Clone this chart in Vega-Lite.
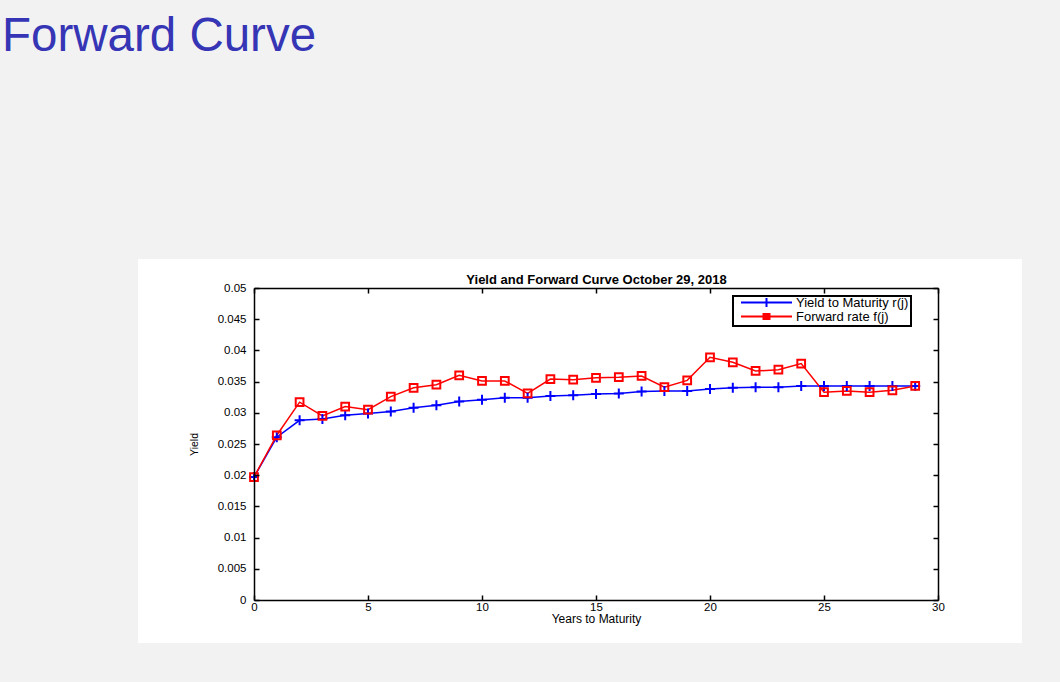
{
  "$schema": "https://vega.github.io/schema/vega-lite/v6.json",
  "width": 684,
  "height": 312,
  "autosize": {"type": "none"},
  "padding": {"left": 254, "top": 288, "right": 122, "bottom": 82},
  "background": "#f2f2f2",
  "title": {"text": "Forward Curve", "anchor": "start", "frame": "group", "fontSize": 47.5, "font": "Liberation Sans", "fontWeight": "normal", "color": "#3535b5", "dx": -252, "offset": 161, "baseline": "alphabetic"},
  "config": {"view": {"stroke": null}, "font": "Liberation Sans"},
  "datasets": {
    "curve": [
      {"t": 0, "Yield to Maturity r(j)": 0.0197, "Forward rate f(j)": 0.0197},
      {"t": 1, "Yield to Maturity r(j)": 0.0261, "Forward rate f(j)": 0.0264},
      {"t": 2, "Yield to Maturity r(j)": 0.0288, "Forward rate f(j)": 0.0317},
      {"t": 3, "Yield to Maturity r(j)": 0.0290, "Forward rate f(j)": 0.0295},
      {"t": 4, "Yield to Maturity r(j)": 0.0296, "Forward rate f(j)": 0.0310},
      {"t": 5, "Yield to Maturity r(j)": 0.0299, "Forward rate f(j)": 0.0305},
      {"t": 6, "Yield to Maturity r(j)": 0.0302, "Forward rate f(j)": 0.0326},
      {"t": 7, "Yield to Maturity r(j)": 0.0308, "Forward rate f(j)": 0.0340},
      {"t": 8, "Yield to Maturity r(j)": 0.0312, "Forward rate f(j)": 0.0345},
      {"t": 9, "Yield to Maturity r(j)": 0.0318, "Forward rate f(j)": 0.0360},
      {"t": 10, "Yield to Maturity r(j)": 0.0321, "Forward rate f(j)": 0.0351},
      {"t": 11, "Yield to Maturity r(j)": 0.0324, "Forward rate f(j)": 0.0351},
      {"t": 12, "Yield to Maturity r(j)": 0.0324, "Forward rate f(j)": 0.0331},
      {"t": 13, "Yield to Maturity r(j)": 0.0327, "Forward rate f(j)": 0.0354},
      {"t": 14, "Yield to Maturity r(j)": 0.0328, "Forward rate f(j)": 0.0353},
      {"t": 15, "Yield to Maturity r(j)": 0.0330, "Forward rate f(j)": 0.0356},
      {"t": 16, "Yield to Maturity r(j)": 0.0331, "Forward rate f(j)": 0.0357},
      {"t": 17, "Yield to Maturity r(j)": 0.0334, "Forward rate f(j)": 0.0359},
      {"t": 18, "Yield to Maturity r(j)": 0.0335, "Forward rate f(j)": 0.0341},
      {"t": 19, "Yield to Maturity r(j)": 0.0335, "Forward rate f(j)": 0.0352},
      {"t": 20, "Yield to Maturity r(j)": 0.0338, "Forward rate f(j)": 0.0389},
      {"t": 21, "Yield to Maturity r(j)": 0.0340, "Forward rate f(j)": 0.0381},
      {"t": 22, "Yield to Maturity r(j)": 0.0341, "Forward rate f(j)": 0.0367},
      {"t": 23, "Yield to Maturity r(j)": 0.0341, "Forward rate f(j)": 0.0369},
      {"t": 24, "Yield to Maturity r(j)": 0.0343, "Forward rate f(j)": 0.0379},
      {"t": 25, "Yield to Maturity r(j)": 0.0343, "Forward rate f(j)": 0.0333},
      {"t": 26, "Yield to Maturity r(j)": 0.0343, "Forward rate f(j)": 0.0335},
      {"t": 27, "Yield to Maturity r(j)": 0.0343, "Forward rate f(j)": 0.0333},
      {"t": 28, "Yield to Maturity r(j)": 0.0343, "Forward rate f(j)": 0.0336},
      {"t": 29, "Yield to Maturity r(j)": 0.0343, "Forward rate f(j)": 0.0343}
    ]
  },
  "resolve": {"axis": {"x": "independent", "y": "independent"}},
  "layer": [
    {
      "data": {"values": [{}]},
      "mark": {"type": "rect", "fill": "white", "clip": false},
      "encoding": {
        "x": {"datum": -5.088, "type": "quantitative", "scale": {"domain": [0, 30], "nice": false, "zero": false},
          "axis": {"orient": "top", "zindex": 1, "labels": false, "ticks": true, "tickSize": -5, "tickColor": "black", "tickWidth": 1.5, "values": [0, 5, 10, 15, 20, 25, 30], "domainColor": "black", "domainWidth": 1.5, "grid": false,
            "title": "Yield and Forward Curve October 29, 2018", "titleFontSize": 13, "titleFontWeight": "bold", "titleColor": "black", "titlePadding": 1, "titleFont": "Liberation Sans"}},
        "x2": {"datum": 33.684},
        "y": {"datum": 0.054647, "type": "quantitative", "scale": {"domain": [0, 0.05], "nice": false, "zero": false},
          "axis": {"orient": "right", "zindex": 1, "labels": false, "ticks": true, "tickSize": -5, "tickColor": "black", "tickWidth": 1.5, "values": [0, 0.005, 0.01, 0.015, 0.02, 0.025, 0.03, 0.035, 0.04, 0.045, 0.05], "domainColor": "black", "domainWidth": 1.5, "grid": false, "title": null}},
        "y2": {"datum": -0.006891}
      }
    },
    {
      "data": {"name": "curve"},
      "transform": [{"fold": ["Yield to Maturity r(j)", "Forward rate f(j)"], "as": ["series", "value"]}],
      "mark": {"type": "line", "strokeWidth": 1.5},
      "encoding": {
        "x": {"field": "t", "type": "quantitative", "scale": {"domain": [0, 30], "nice": false, "zero": false},
          "axis": {"orient": "bottom", "zindex": 1, "values": [0, 5, 10, 15, 20, 25, 30], "labelFlush": false, "tickSize": -5, "tickColor": "black", "tickWidth": 1.5, "domainColor": "black", "domainWidth": 1.5, "grid": false, "labelFontSize": 11.5, "labelColor": "black", "labelPadding": 6, "labelFont": "Liberation Sans",
            "title": "Years to Maturity", "titleFontSize": 12, "titleFontWeight": "normal", "titleColor": "black", "titlePadding": 1, "titleFont": "Liberation Sans"}},
        "y": {"field": "value", "type": "quantitative", "scale": {"domain": [0, 0.05], "nice": false, "zero": false},
          "axis": {"orient": "left", "zindex": 1, "values": [0, 0.005, 0.01, 0.015, 0.02, 0.025, 0.03, 0.035, 0.04, 0.045, 0.05], "labelFlush": false, "format": "~g", "tickSize": -5, "tickColor": "black", "tickWidth": 1.5, "domainColor": "black", "domainWidth": 1.5, "grid": false, "labelFontSize": 11.5, "labelColor": "black", "labelPadding": 13, "labelFont": "Liberation Sans",
            "title": "Yield", "titleFontSize": 10.5, "titleFontWeight": "normal", "titleColor": "black", "titlePadding": 18, "titleFont": "Liberation Sans"}},
        "color": {"field": "series", "type": "nominal", "scale": {"domain": ["Yield to Maturity r(j)", "Forward rate f(j)"], "range": ["#0000ff", "#ff0000"]},
          "legend": {"orient": "none", "legendX": 479, "legendY": 8, "title": null, "direction": "vertical", "strokeColor": "black", "fillColor": "white", "padding": 2, "labelFontSize": 13, "labelColor": "black", "rowPadding": 0, "clipHeight": 9, "symbolSize": 100, "symbolStrokeWidth": 2, "symbolOffset": 25, "labelOffset": 23, "zindex": 1,
            "encode": {
              "legend": {"update": {"strokeWidth": {"value": 2}}},
              "symbols": {"update": {
                "shape": {"signal": "datum.value === 'Forward rate f(j)' ? 'M-5.1,0H5.1M-0.6,-0.5H0.6V0.5H-0.6Z' : 'M-5.1,0H5.1M0,-0.9V0.9'"},
                "fill": {"signal": "datum.value === 'Forward rate f(j)' ? '#ff0000' : 'transparent'"}
              }}}}},
        "detail": {"field": "series"}
      }
    },
    {
      "data": {"name": "curve"},
      "transform": [{"fold": ["Yield to Maturity r(j)", "Forward rate f(j)"], "as": ["series", "value"]}],
      "mark": {"type": "point", "filled": false, "strokeWidth": 2, "opacity": 1},
      "encoding": {
        "x": {"field": "t", "type": "quantitative", "scale": {"domain": [0, 30], "nice": false, "zero": false}, "axis": null},
        "y": {"field": "value", "type": "quantitative", "scale": {"domain": [0, 0.05], "nice": false, "zero": false}, "axis": null},
        "color": {"field": "series", "type": "nominal", "scale": {"domain": ["Yield to Maturity r(j)", "Forward rate f(j)"], "range": ["#0000ff", "#ff0000"]}},
        "shape": {"condition": {"test": "datum.series === 'Forward rate f(j)'", "value": "square"}, "value": "M-1,0H1M0,-1V1"},
        "size": {"condition": {"test": "datum.series === 'Forward rate f(j)'", "value": 60}, "value": 100}
      }
    }
  ]
}
